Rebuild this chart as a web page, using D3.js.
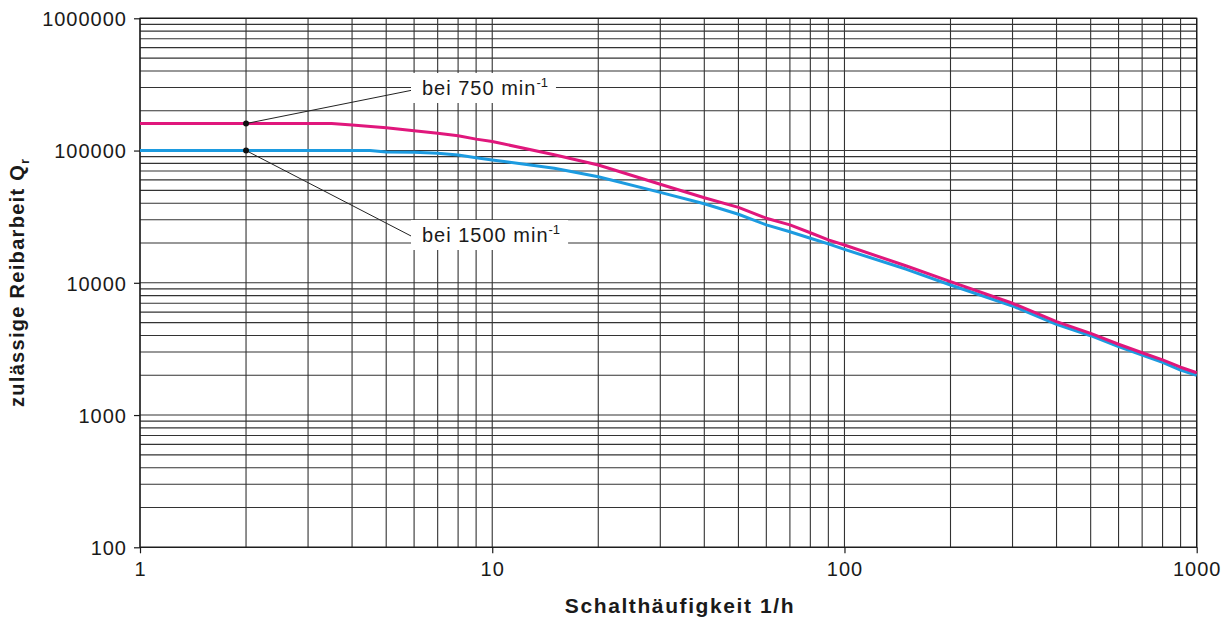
<!DOCTYPE html>
<html>
<head>
<meta charset="utf-8">
<script src="https://cdn.jsdelivr.net/npm/d3@7"></script>
<style>
  body { margin: 0; background: #fff; }
  svg text { font-family: "Liberation Sans", Arial, sans-serif; fill: #1a1a1a; }
</style>
</head>
<body>
<div id="plot"></div>
<script>
// values (Schalthäufigkeit in 1/h, Reibarbeit Q_r)
var freq750 = [1, 2, 3, 3.5, 4, 5, 6, 7, 8, 9, 10, 15, 20, 30, 40, 50, 60, 70, 80, 90, 100, 150, 200, 300, 400, 500, 600, 700, 800, 900, 1000];
var q750 = [160000, 160000, 160000, 160000, 156000, 149000, 141000, 135000, 129500, 122000, 117000, 93000, 77800, 55600, 44000, 37200, 30800, 27400, 23900, 21100, 19300, 13400, 10200, 7000, 5080, 4150, 3430, 2960, 2610, 2300, 2090];

var freq1500 = [1, 2, 3, 4, 4.5, 5, 6, 7, 8, 9, 10, 15, 20, 30, 40, 50, 60, 70, 80, 90, 100, 150, 200, 300, 400, 500, 600, 700, 800, 900, 1000];
var q1500 = [100000, 100000, 100000, 100000, 100000, 97500, 96900, 95300, 92500, 88300, 84900, 73400, 63400, 48300, 39600, 33000, 27400, 24300, 21700, 19700, 17900, 12650, 9620, 6680, 4850, 3980, 3290, 2845, 2506, 2190, 2000];

var xTickLabels = [1, 10, 100, 1000];
var yTickLabels = [100, 1000, 10000, 100000, 1000000];

var width = 1231;
var height = 619;

var svg = d3.select('#plot')
    .append('svg')
    .attr('width', width)
    .attr('height', height);

var x = d3.scaleLog().domain([1, 1000]).range([140, 1196.7]);
var y = d3.scaleLog().domain([100, 1000000]).range([547.3, 18.3]);

//grid, every 1..9 of each decade
var grid = svg.append('g');
grid.selectAll('line.v')
    .data(x.ticks())
    .enter()
    .append('line')
    .attr('x1', function(d){ return x(d); })
    .attr('x2', function(d){ return x(d); })
    .attr('y1', y.range()[1])
    .attr('y2', y.range()[0])
    .style('stroke', '#333')
    .style('stroke-width', '1.1px');

grid.selectAll('line.h')
    .data(y.ticks())
    .enter()
    .append('line')
    .attr('x1', x.range()[0])
    .attr('x2', x.range()[1])
    .attr('y1', function(d){ return y(d); })
    .attr('y2', function(d){ return y(d); })
    .style('stroke', '#333')
    .style('stroke-width', '1.1px');

//frame
svg.append('rect')
    .attr('x', x.range()[0])
    .attr('y', y.range()[1])
    .attr('width', x.range()[1] - x.range()[0])
    .attr('height', y.range()[0] - y.range()[1])
    .style('fill', 'none')
    .style('stroke', '#1a1a1a')
    .style('stroke-width', '1.3px');

//axes
var xAxis = svg.append('g')
    .attr('transform', 'translate(0,' + y.range()[0] + ')')
    .call(d3.axisBottom(x).tickValues(xTickLabels).tickFormat(d3.format('d')).tickSize(6).tickSizeOuter(0).tickPadding(9));

var yAxis = svg.append('g')
    .attr('transform', 'translate(' + x.range()[0] + ',0)')
    .call(d3.axisLeft(y).tickValues(yTickLabels).tickFormat(d3.format('d')).tickSize(6).tickSizeOuter(0).tickPadding(7));

svg.selectAll('.domain').remove();
svg.selectAll('.tick line').style('stroke', '#1a1a1a').style('stroke-width', '1.2px');
svg.selectAll('.tick text')
    .style('font-size', '20px')
    .style('letter-spacing', '1px')
    .style('font-family', '"Liberation Sans", Arial, sans-serif')
    .style('fill', '#1a1a1a');
yAxis.selectAll('.tick text').attr('dy', '0.37em');

//curves
var line = d3.line()
    .x(function(d){ return x(d[0]); })
    .y(function(d){ return y(d[1]); });

svg.append('path')
    .datum(d3.zip(freq1500, q1500))
    .attr('d', line)
    .style('fill', 'none')
    .style('stroke', '#1c9be0')
    .style('stroke-width', '3px')
    .style('stroke-linejoin', 'round');

svg.append('path')
    .datum(d3.zip(freq750, q750))
    .attr('d', line)
    .style('fill', 'none')
    .style('stroke', '#e0177c')
    .style('stroke-width', '3px')
    .style('stroke-linejoin', 'round');

//annotations
function annotate(q, lx, ly, label){
    var g = svg.append('g');
    g.append('line')
        .attr('x1', x(2))
        .attr('y1', y(q))
        .attr('x2', lx)
        .attr('y2', ly)
        .style('stroke', '#222')
        .style('stroke-width', '1px');
    var box = g.append('rect').style('fill', '#fff');
    var t = g.append('text')
        .attr('x', lx + 9)
        .attr('y', ly + 5)
        .style('font-size', '20px')
        .style('letter-spacing', '1px');
    t.append('tspan').text(label);
    t.append('tspan')
        .attr('dy', -8)
        .style('font-size', '13px')
        .style('letter-spacing', '0px')
        .text('-1');
    var bb = t.node().getBBox();
    box.attr('x', lx - 2)
        .attr('y', ly - 17)
        .attr('width', bb.x + bb.width + 8 - (lx - 2))
        .attr('height', 30);
    g.append('circle')
        .attr('cx', x(2))
        .attr('cy', y(q))
        .attr('r', 3)
        .style('fill', '#111');
}

annotate(160000, 413, 90, 'bei 750 min');
annotate(100000, 413, 237, 'bei 1500 min');

//axis titles
svg.append('text')
    .attr('x', 680)
    .attr('y', 613)
    .attr('text-anchor', 'middle')
    .style('font-size', '21px')
    .style('font-weight', 'bold')
    .style('letter-spacing', '1.6px')
    .text('Schalthäufigkeit 1/h');

var yt = svg.append('text')
    .attr('transform', 'translate(24,407) rotate(-90)')
    .style('font-size', '20px')
    .style('font-weight', 'bold')
    .style('letter-spacing', '1.3px');
yt.append('tspan').text('zulässige Reibarbeit Q');
yt.append('tspan')
    .attr('dy', 5)
    .style('font-size', '13px')
    .text('r');
</script>
</body>
</html>
